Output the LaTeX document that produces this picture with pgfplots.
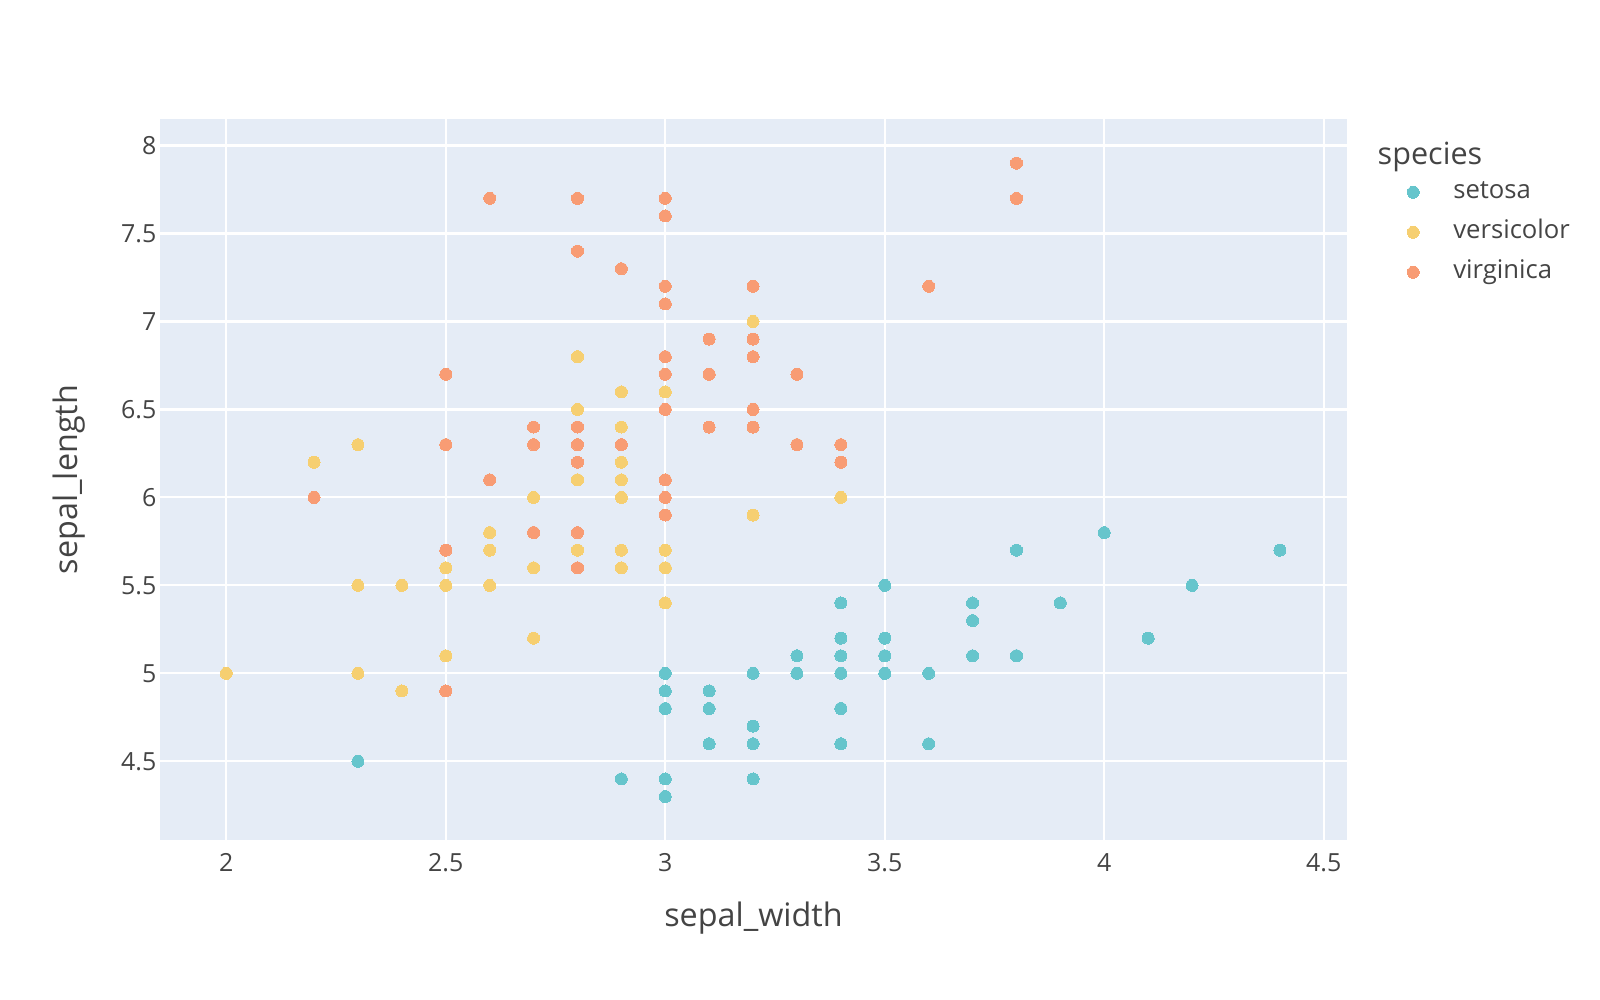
\documentclass[border=0pt]{standalone}
\usepackage{pgfplots}
\pgfplotsset{compat=1.18}
\usepackage{fontspec}
\setmainfont{Open Sans}
\definecolor{bg}{HTML}{E5ECF6}
\definecolor{txt}{HTML}{444444}
\definecolor{cset}{HTML}{66C5CC}
\definecolor{cver}{HTML}{F6CF71}
\definecolor{cvir}{HTML}{F89C74}
\pgfplotstableread{
x y
3.5 5.1
3.0 4.9
3.2 4.7
3.1 4.6
3.6 5.0
3.9 5.4
3.4 4.6
3.4 5.0
2.9 4.4
3.1 4.9
3.7 5.4
3.4 4.8
3.0 4.8
3.0 4.3
4.0 5.8
4.4 5.7
3.9 5.4
3.5 5.1
3.8 5.7
3.8 5.1
3.4 5.4
3.7 5.1
3.6 4.6
3.3 5.1
3.4 4.8
3.0 5.0
3.4 5.0
3.5 5.2
3.4 5.2
3.2 4.7
3.1 4.8
3.4 5.4
4.1 5.2
4.2 5.5
3.1 4.9
3.2 5.0
3.5 5.5
3.1 4.9
3.0 4.4
3.4 5.1
3.5 5.0
2.3 4.5
3.2 4.4
3.5 5.0
3.8 5.1
3.0 4.8
3.8 5.1
3.2 4.6
3.7 5.3
3.3 5.0
}\setosa
\pgfplotstableread{
x y
3.2 7.0
3.2 6.4
3.1 6.9
2.3 5.5
2.8 6.5
2.8 5.7
3.3 6.3
2.4 4.9
2.9 6.6
2.7 5.2
2.0 5.0
3.0 5.9
2.2 6.0
2.9 6.1
2.9 5.6
3.1 6.7
3.0 5.6
2.7 5.8
2.2 6.2
2.5 5.6
3.2 5.9
2.8 6.1
2.5 6.3
2.8 6.1
2.9 6.4
3.0 6.6
2.8 6.8
3.0 6.7
2.9 6.0
2.6 5.7
2.4 5.5
2.4 5.5
2.7 5.8
2.7 6.0
3.0 5.4
3.4 6.0
3.1 6.7
2.3 6.3
3.0 5.6
2.5 5.5
2.6 5.5
3.0 6.1
2.6 5.8
2.3 5.0
2.7 5.6
3.0 5.7
2.9 5.7
2.9 6.2
2.5 5.1
2.8 5.7
}\versicolor
\pgfplotstableread{
x y
3.3 6.3
2.7 5.8
3.0 7.1
2.9 6.3
3.0 6.5
3.0 7.6
2.5 4.9
2.9 7.3
2.5 6.7
3.6 7.2
3.2 6.5
2.7 6.4
3.0 6.8
2.5 5.7
2.8 5.8
3.2 6.4
3.0 6.5
3.8 7.7
2.6 7.7
2.2 6.0
3.2 6.9
2.8 5.6
2.8 7.7
2.7 6.3
3.3 6.7
3.2 7.2
2.8 6.2
3.0 6.1
2.8 6.4
3.0 7.2
2.8 7.4
3.8 7.9
2.8 6.4
2.8 6.3
2.6 6.1
3.0 7.7
3.4 6.3
3.1 6.4
3.0 6.0
3.1 6.9
3.1 6.7
3.1 6.9
2.7 5.8
3.2 6.8
3.3 6.7
3.0 6.7
2.5 6.3
3.0 6.5
3.4 6.2
3.0 5.9
}\virginica
\begin{document}
\begin{tikzpicture}
\useasboundingbox (0,0) rectangle (16,10);
\begin{axis}[
  at={(1.60cm,1.60cm)}, anchor=south west,
  width=11.87cm, height=7.21cm, scale only axis,
  xmin=1.849, xmax=4.553, ymin=4.053, ymax=8.151,
  axis background/.style={fill=bg},
  axis line style={draw=none},
  major tick length=0pt,
  grid=major, grid style={white, line width=0.6pt},
  xtick={2,2.5,3,3.5,4,4.5}, ytick={4.5,5,5.5,6,6.5,7,7.5,8},
  /pgf/number format/assume math mode=true,
  ticklabel style={font=\fontsize{7.1}{8}\selectfont, text=txt, inner sep=0pt},
  xticklabel style={anchor=north, yshift=-0.13cm},
  yticklabel style={anchor=east, xshift=-0.03cm},
  xlabel={sepal\_width}, ylabel={sepal\_length},
  label style={font=\fontsize{9.2}{11}\selectfont, text=txt, inner sep=0pt},
  xlabel style={at={(axis description cs:0.5,0)}, anchor=base, yshift=-0.87cm},
  ylabel style={at={(axis description cs:0,0.5)}, anchor=base, yshift=0.82cm},
  legend cell align=left,
  legend style={at={(axis description cs:1.0413,0.9264)}, anchor=north west,
    draw=none, fill=none, font=\fontsize{7.3}{9}\selectfont, text=txt,
    nodes={inner sep=0pt, text height=1.9mm, text depth=0.6mm},
    row sep=1.5mm, column sep=0.34cm},
]
\addplot[only marks, mark=*, mark size=0.06cm, color=cset, mark options={line width=0pt}] table {\setosa};
\addlegendentry{setosa}
\addplot[only marks, mark=*, mark size=0.06cm, color=cver, mark options={line width=0pt}] table {\versicolor};
\addlegendentry{versicolor}
\addplot[only marks, mark=*, mark size=0.06cm, color=cvir, mark options={line width=0pt}] table {\virginica};
\addlegendentry{virginica}
\end{axis}
\node[anchor=base west, inner sep=0pt, text=txt, font=\fontsize{8.7}{10}\selectfont] at (13.77,8.35) {species};
\end{tikzpicture}
\end{document}
